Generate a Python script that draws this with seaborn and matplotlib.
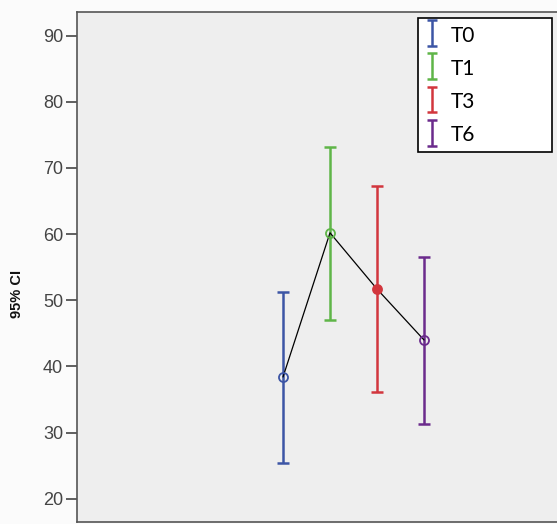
import matplotlib
matplotlib.use("Agg")
import matplotlib.pyplot as plt
from matplotlib.legend_handler import HandlerErrorbar
from matplotlib.container import ErrorbarContainer
import numpy as np
import seaborn as sns
import pandas as pd

# Time points with mean and 95% confidence limits
categories = ["T0", "T1", "T3", "T6"]
means = [38.4, 60.2, 51.7, 44.0]
ci_low = [25.4, 47.0, 36.2, 31.3]
ci_high = [51.3, 73.2, 67.2, 56.5]
y_ticks = [20, 30, 40, 50, 60, 70, 80, 90]

colors = ["#3c55a5", "#5fb548", "#d2363d", "#6b2b8c"]
filled = [False, False, True, False]

sns.set_theme(style="white")
plt.rcParams["font.family"] = ["Liberation Sans", "DejaVu Sans"]

W, H = 557, 524
fig = plt.figure(figsize=(W / 100, H / 100), dpi=100)
fig.patch.set_facecolor("#fbfbfb")

left_px, right_px, top_px, bottom_px = 77, 640, 12, 522
ax = fig.add_axes([left_px / W, (H - bottom_px) / H,
                   (right_px - left_px) / W, (bottom_px - top_px) / H])
ax.set_facecolor("#eeeeee")

df = pd.DataFrame({"pos": range(len(categories)), "mean": means,
                   "time": categories})

# connecting line through the means
sns.lineplot(data=df, x="pos", y="mean", color="black", lw=0.9, ax=ax,
             legend=False, zorder=4)

handles = []
for i, cat in enumerate(categories):
    ax.errorbar(i, means[i],
                yerr=[[means[i] - ci_low[i]], [ci_high[i] - means[i]]],
                fmt="none", ecolor=colors[i], elinewidth=1.8, capsize=4.3,
                capthick=1.8, zorder=3)
    ax.plot(i, means[i], marker="o", ms=6.5,
            mfc=colors[i] if filled[i] else "none", mec=colors[i], mew=1.3,
            zorder=5)
    # legend key: a plain I-shaped bar in the group colour
    handles.append(ax.errorbar([np.nan], [np.nan], yerr=[1], fmt="none",
                               ecolor=colors[i], elinewidth=1.8, capsize=3.6,
                               capthick=1.8, label=cat))

ppu = 47.0
x0 = 283
ax.set_xlim(0 - (x0 - left_px) / ppu, 0 + (right_px - x0) / ppu)
ax.set_ylim(16.48, 93.58)
ax.set_yticks(y_ticks)
ax.set_yticklabels([str(t) for t in y_ticks])
ax.set_xticks([])
ax.set_xlabel("")
ax.set_ylabel("")
ax.tick_params(axis="y", direction="out", length=8, width=1.2, color="#444444",
               labelsize=13, labelcolor="#444444", pad=2, left=True)
for s in ["left", "bottom", "top", "right"]:
    ax.spines[s].set_color("#555555")
    ax.spines[s].set_linewidth(1.2)

fig.text(17 / W, 1 - 294 / H, "95% CI", rotation=90, fontsize=10.5,
         fontweight="bold", ha="center", va="center", color="#111111")

# legend box spanning its fixed area
bx0 = (418 - left_px) / (right_px - left_px)
bx1 = (552 - left_px) / (right_px - left_px)
by1 = 1 - (18 - top_px) / (bottom_px - top_px)
by0 = 1 - (148 - top_px) / (bottom_px - top_px)
leg = ax.legend(handles=handles, labels=categories, loc="upper left",
                bbox_to_anchor=(bx0, by0, bx1 - bx0, by1 - by0),
                mode="expand",
                handler_map={ErrorbarContainer: HandlerErrorbar(xerr_size=0.3, yerr_size=0.62)},
                frameon=True, fancybox=False, framealpha=1, edgecolor="black",
                prop={"family": ["Lato", "DejaVu Sans"], "size": 15},
                handlelength=0.7, handleheight=1.1, handletextpad=0.55,
                labelspacing=0.58, borderpad=0.32, borderaxespad=0)
leg.get_frame().set_linewidth(1.2)
for t in leg.get_texts():
    t.set_color("black")

fig.savefig("out.png", dpi=100, facecolor=fig.get_facecolor())
